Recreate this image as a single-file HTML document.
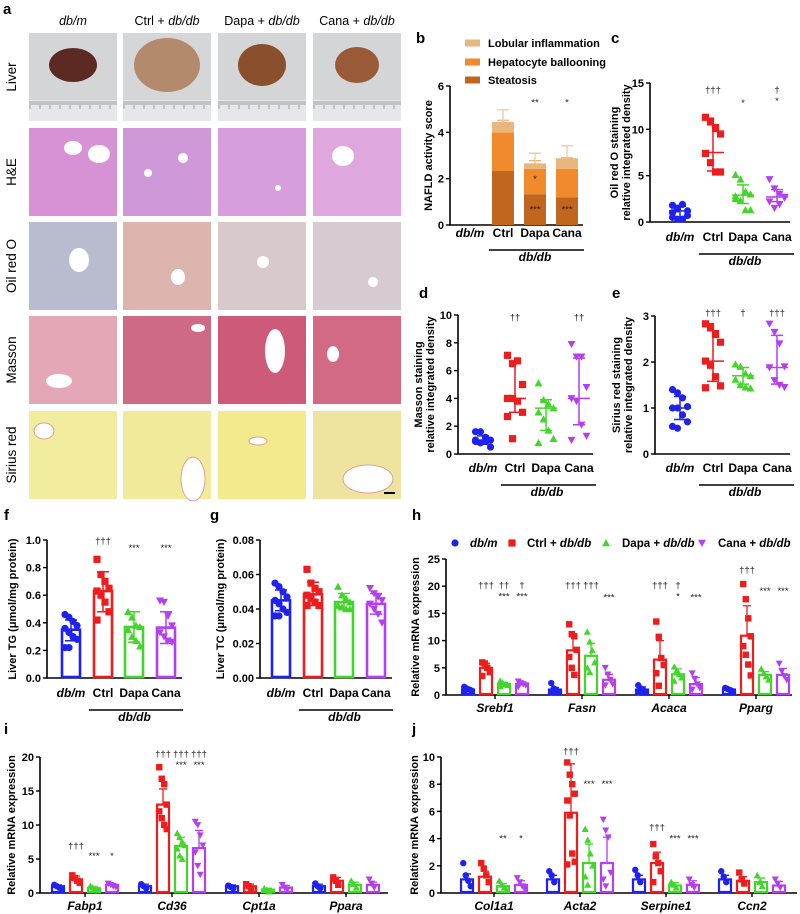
<!DOCTYPE html>
<html><head><meta charset="utf-8"><title>Liver figure</title>
<style>
html,body{margin:0;padding:0;background:#fff;}
svg{display:block;font-family:"Liberation Sans",Arial,sans-serif;}
</style></head>
<body>
<svg id="fig" width="800" height="914" viewBox="0 0 800 914" xmlns="http://www.w3.org/2000/svg"></svg>
<script>
// ---------- DATA ----------
const groupNames = ["db/m","Ctrl","Dapa","Cana"];
const colors = ["#1f22ee","#ee1c1c","#43d62a","#b43ef0"];
const shapes = ["circle","square","tri","tridown"];

// b
const nasTicks = [0,2,4,6];
const steatosis = [0,2.33,1.33,1.2];
const ballooning = [0,1.67,1.1,1.23];
const lobular = [0,0.45,0.23,0.45];
const steatosisErr = [0,2.82,1.83,1.65];
const balloonErr = [0,4.52,2.78,2.9];
const lobularErr = [0,4.97,3.1,3.42];

// c
const orTicks = [0,5,10,15];
const orPts = [[1.8,1.5,1.9,1.2,0.5,0.3,0.3,0.7,1.0,1.4],[11.3,10.9,10.1,9.5,7.4,6.4,5.4,5.4],[5.1,4.6,3.3,3.0,2.8,2.3,1.3,1.3,2.5],[4.6,3.6,3.0,2.6,2.2,1.5,1.9,2.7]];
const orMid = [1.2,7.5,2.9,2.7];
const orLo = [0.4,5.5,2.0,2.2];
const orHi = [1.7,10.5,4.0,3.5];

// d
const msTicks = [0,2,4,6,8,10];
const msPts = [[1.6,1.6,1.2,1.0,0.9,0.8,0.9,0.5,1.0],[7.1,6.5,6.7,5.0,4.0,4.0,3.8,3.0,2.7,1.1],[5.1,3.9,3.6,3.3,3.0,2.5,1.7,1.1,0.8],[7.9,7.0,7.0,4.8,4.0,3.8,2.1,1.3,1.0]];
const msMid = [1.0,4.0,3.3,4.0];
const msLo = [0.7,3.0,1.7,2.1];
const msHi = [1.3,6.6,3.9,6.9];

// e
const srTicks = [0,1,2,3];
const srPts = [[1.4,1.33,1.22,1.03,1.0,1.0,0.85,0.7,0.6,0.56],[2.83,2.77,2.6,2.43,2.02,1.93,1.68,1.48,1.44],[1.95,1.9,1.75,1.7,1.62,1.5,1.45,1.43],[2.83,2.65,2.4,1.9,1.88,1.6,1.5,1.45]];
const srMid = [1.0,2.02,1.7,1.88];
const srLo = [0.75,1.58,1.52,1.52];
const srHi = [1.25,2.68,1.88,2.58];

// f
const tgTicks = [0,0.2,0.4,0.6,0.8,1.0];
const tgMean = [0.35,0.63,0.37,0.365];
const tgLo = [0.27,0.48,0.26,0.25];
const tgHi = [0.42,0.77,0.48,0.48];
const tgPts = [[0.46,0.44,0.41,0.38,0.36,0.33,0.3,0.28,0.22,0.22],[0.86,0.75,0.7,0.65,0.63,0.6,0.55,0.48,0.42],[0.48,0.44,0.38,0.37,0.35,0.3,0.27,0.23],[0.56,0.55,0.45,0.38,0.33,0.3,0.27,0.26]];

// g
const tcTicks = [0,0.02,0.04,0.06,0.08];
const tcMean = [0.045,0.0485,0.044,0.043];
const tcLo = [0.039,0.042,0.04,0.037];
const tcHi = [0.051,0.0555,0.049,0.049];
const tcPts = [[0.055,0.053,0.05,0.047,0.045,0.043,0.04,0.038,0.036,0.036],[0.063,0.055,0.052,0.05,0.048,0.046,0.044,0.042,0.042],[0.053,0.048,0.046,0.044,0.042,0.041,0.04,0.04],[0.052,0.049,0.047,0.045,0.043,0.04,0.037,0.032]];

// h  (all [group][gene])
const hGenes = ["Srebf1","Fasn","Acaca","Pparg"];
const hTicks = [0,5,10,15,20,25];
const hMean = [[1,1,1,1],[5,8.2,6.5,10.9],[2,7.2,3.8,3.7],[2,2.8,2.0,3.7]];
const hSd = [[0.3,0.4,0.5,0.2],[0.8,2.5,3.5,5.5],[0.3,2.3,1.0,0.6],[0.3,1.0,1.2,1.2]];
const hPts = [[[1.5,1.2,1,0.8,0.6],[2.2,1.2,0.9,0.6,0.5],[1.8,1.2,0.9,0.6,0.5],[1.3,1.1,0.9,0.7]],
              [[6,5.8,5,4.2,3.5],[13,11.2,10.8,8.3,7,5,3.7],[13.5,10.7,6.8,5.5,4,1.7],[20.4,17.6,14.1,10.8,9,7.4,5.6,3.6]],
              [[2.6,2.2,2,1.8,1.6],[11.6,9.8,8.2,6,5,4.2],[5.2,4.5,3.8,3.2,2.6],[4.8,4,3.4,2.8]],
              [[2.5,2.2,2,1.8,1.5],[5,3.8,2.8,2,1.8],[4,3,2,1.3,1],[5.8,4.4,3.5,2.8]]];
const hSig = [["","","",""],["†††","†††","†††","†††"],["††\n***","†††","†\n*","***"],["†\n***","***","***","***"]];
const hSigY = [[0,0,0,0],[19.6,19.6,19.6,22.4],[19.6,19.6,19.6,18.6],[19.6,17.4,17.4,18.6]];

// i
const iGenes = ["Fabp1","Cd36","Cpt1a","Ppara"];
const iTicks = [0,5,10,15,20];
const iMean = [[1,1,1,1],[2,13,1,1.8],[0.7,6.9,0.5,1.2],[1.2,6.6,0.8,1.2]];
const iSd = [[0.2,0.3,0.2,0.3],[0.5,2.3,0.3,0.5],[0.2,1.3,0.2,0.4],[0.2,2.6,0.3,0.4]];
const iPts = [[[1.2,1,0.8,0.6],[1.3,1,0.7],[1.1,0.9,0.7],[1.4,1,0.7]],
              [[2.6,2.2,1.8,1.5],[18.5,16.8,16,13,12,11,10,9.4],[1.3,1,0.6],[2.3,1.8,1.2]],
              [[1,0.8,0.6,0.4],[8.8,8.2,7.5,7,6.5,5.5,5],[0.7,0.4,0.2],[1.8,1.3,0.8]],
              [[1.4,1.2,1,0.9],[10.5,10,8.5,7,6,4,2.7],[1.2,0.8,0.5],[2,1.4,0.8]]];
const iSig = [["","","",""],["†††","†††","",""],["***","†††\n***","",""],["*","†††\n***","",""]];
const iSigY = [[0,0,0,0],[6.5,20,0,0],[5,20,0,0],[5,20,0,0]];

// j
const jGenes = ["Col1a1","Acta2","Serpine1","Ccn2"];
const jTicks = [0,2,4,6,8,10];
const jMean = [[1,1,1,1],[1.2,5.9,2.2,0.9],[0.5,2.2,0.55,0.8],[0.6,2.2,0.6,0.55]];
const jSd = [[0.4,0.3,0.3,0.3],[0.4,3.6,0.8,0.3],[0.2,1.4,0.2,0.3],[0.3,1.9,0.3,0.3]];
const jPts = [[[2.2,1.3,0.9,0.5],[1.6,1.3,0.8],[1.7,1.3,0.8],[1.6,1.2,0.8]],
              [[2.2,1.8,1.3,0.8],[9.6,8.7,8,7.3,6.8,5.7,2.9,2.3,2.1],[3.6,2.7,2.2,1.6,0.8],[1.5,1,0.7]],
              [[0.9,0.6,0.4,0.2],[4.7,3.9,2.9,2,1.2,0.6],[0.8,0.6,0.4],[1.3,0.8,0.5]],
              [[1.1,0.8,0.5,0.3],[5.4,4.6,4.1,1.5,1,0.5],[1,0.6,0.4],[1,0.7,0.4]]];
const jSig = [["","","",""],["","†††","†††",""],["**","***","***",""],["*","***","***",""]];
const jSigY = [[0,0,0,0],[0,10.2,4.6,0],[3.8,7.8,3.8,0],[3.8,7.8,3.8,0]];

// ---------- HELPERS ----------
const NS = "http://www.w3.org/2000/svg";
const svg = document.getElementById("fig");
function el(tag, a, p) {
  const e = document.createElementNS(NS, tag);
  for (const k in a) e.setAttribute(k, a[k]);
  (p || svg).appendChild(e);
  return e;
}
function tx(x, y, s, size, anchor, extra, p) {
  const e = el("text", Object.assign({x: x, y: y, "font-size": size, "text-anchor": anchor || "middle"}, extra || {}), p);
  e.textContent = s;
  return e;
}
function grp(name) {
  const g = el("g", {});
  
  
  return g;
}
function marker(shape, cx, cy, r, color, p) {
  let m;
  if (shape === "circle") m = el("circle", {cx: cx, cy: cy, r: r, fill: color}, p);
  else if (shape === "square") m = el("rect", {x: cx - r, y: cy - r, width: 2 * r, height: 2 * r, fill: color}, p);
  else if (shape === "tri") m = el("polygon", {points: `${cx},${cy - r * 1.1} ${cx - r * 1.1},${cy + r * 0.9} ${cx + r * 1.1},${cy + r * 0.9}`, fill: color}, p);
  else m = el("polygon", {points: `${cx},${cy + r * 1.1} ${cx - r * 1.1},${cy - r * 0.9} ${cx + r * 1.1},${cy - r * 0.9}`, fill: color}, p);
  
  
  return m;
}
function fmtNum(t, dec) { return t.toFixed(dec); }
function axes(o) {
  const g = grp(o.name + "-axes");
  const sy = v => o.y0 - (v - o.ticks[0]) / (o.ticks[o.ticks.length - 1] - o.ticks[0]) * (o.y0 - o.y1);
  const yl = el("line", {x1: o.x, y1: o.y0, x2: o.x, y2: o.y1, stroke: "#000", "stroke-width": 1.6}, g);
  
  
  const xl = el("line", {x1: o.x - 0.8, y1: o.y0, x2: o.xEnd, y2: o.y0, stroke: "#000", "stroke-width": 1.6}, g);
  
  
  o.ticks.forEach(t => {
    const tk = el("line", {x1: o.x - 4, y1: sy(t), x2: o.x, y2: sy(t), stroke: "#000", "stroke-width": 1.4}, g);
    
    
    const tl = tx(o.x - 6, sy(t) + 4, fmtNum(t, o.dec || 0), 11, "end", {"font-weight": "bold"}, g);
    
    
  });
  const cx = o.titleX, cy = (o.y0 + o.y1) / 2;
  o.title.forEach((line, i) => {
    const t = tx(cx + i * 12, cy, line, 11, "middle", {"font-weight": "bold", transform: `rotate(-90 ${cx + i * 12} ${cy})`}, g);
    
    
  });
  return sy;
}
function catLabels(xs, y, name) {
  const g = grp(name + "-x-labels");
  xs.forEach((x, i) => {
    const t = tx(x, y, groupNames[i], 12, "middle", i === 0 ? {"font-weight": "bold", "font-style": "italic"} : {"font-weight": "bold"}, g);
    
    
  });
  const ul = el("line", {x1: xs[1] - 14, y1: y + 13, x2: xs[3] + 17, y2: y + 13, stroke: "#000", "stroke-width": 1.6}, g);
  
  
  const dd = tx((xs[1] + xs[3]) / 2, y + 24, "db/db", 12, "middle", {"font-weight": "bold", "font-style": "italic"}, g);
  
  
}
function sig(x, y, s, p) {
  s.split("\n").forEach((line, k) => {
    const t = tx(x, y + k * 11, line, 9.5, "middle", {fill: "#222"}, p);
    
    
  });
}
function jit(i, w) { return ((i % 4) - 1.5) * w; }
function panelLetter(x, y, s) {
  const t = tx(x, y, s, 15, "start", {"font-weight": "bold"});
  
  
}

// ---------- PANEL A (photos) ----------
panelLetter(3, 14, "a");
const colX = [29, 123, 218, 313];
const rowY = [33, 128, 222, 316, 411];
const heads = [["", "db/m"], ["Ctrl + ", "db/db"], ["Dapa + ", "db/db"], ["Cana + ", "db/db"]];
heads.forEach((h, i) => {
  const t = el("text", {x: colX[i] + 44, y: 25, "font-size": 12.5, "text-anchor": "middle"});
  
  
  if (h[0]) { const s1 = el("tspan", {}, t); s1.textContent = h[0]; }
  const s2 = el("tspan", {"font-style": "italic"}, t); s2.textContent = h[1];
});
const rowNames = ["Liver", "H&E", "Oil red O", "Masson", "Sirius red"];
rowNames.forEach((r, j) => {
  const cy = rowY[j] + 44;
  const t = tx(16, cy, r, 13.5, "middle", {transform: `rotate(-90 16 ${cy})`});
  
  
});
const tissue = [
  ["#d3d5d7", "#d4d6d8", "#d3d5d7", "#d3d5d7"],
  ["#d792d6", "#cf98d8", "#d79ddc", "#e0a6de"],
  ["#b9bccf", "#dcb5ae", "#d8c9cc", "#d6cbd0"],
  ["#e3a7b6", "#cf6a86", "#cd5a78", "#d26a86"],
  ["#f1ec9e", "#f1ea9a", "#f2ea8c", "#efe3a0"]];
const liverCol = ["#5c2a22", "#b48a6c", "#8a4f2c", "#9a5a38"];
const liverSize = [[24, 17], [33, 27], [24, 21], [22, 18]];
const vessels = [
  [[0,0,0,0]],
  [[44,20,9,7],[70,26,11,9]],[[60,30,5,5],[25,45,4,4]],[[60,60,3,3]],[[30,28,11,10]],
  [[50,38,10,12]],[[55,55,7,8]],[[45,40,6,6]],[[60,60,5,5]],
  [[30,65,13,7]],[[75,12,7,4]],[[57,35,10,22]],[[20,38,6,8]],
  [[15,20,10,8]],[[70,68,12,22]],[[40,30,9,4]],[[55,68,25,14]]];
for (let j = 0; j < 5; j++) {
  for (let i = 0; i < 4; i++) {
    const g = grp("micrograph-" + rowNames[j].toLowerCase().replace(/[^a-z]+/g, "-") + "-" + i);
    const x = colX[i], y = rowY[j];
    const r = el("rect", {x: x, y: y, width: 88, height: 88, fill: tissue[j][i]}, g);
    
    
    if (j === 0) {
      const ru = el("rect", {x: x, y: y + 67, width: 88, height: 21, fill: "#e6e7e8"}, g);
      
      
      for (let k = 0; k < 44; k++) {
        const tk = el("line", {x1: x + 1 + k * 2, y1: y + 68, x2: x + 1 + k * 2, y2: y + (k % 5 === 0 ? 76 : 72), stroke: "#555", "stroke-width": 0.5}, g);
        
        
      }
      const lv = el("ellipse", {cx: x + 44, cy: y + 32, rx: liverSize[i][0], ry: liverSize[i][1], fill: liverCol[i]}, g);
      
      
    } else {
      const vs = vessels[(j - 1) * 4 + i + 1] || [];
      vs.forEach(v => {
        const e = el("ellipse", {cx: x + v[0], cy: y + v[1], rx: v[2], ry: v[3], fill: "#fff", stroke: j === 4 ? "#e0a090" : "none", "stroke-width": 1}, g);
        
        
      });
    }
  }
}
const sb = el("line", {x1: 384, y1: 493, x2: 395, y2: 493, stroke: "#000", "stroke-width": 2});



// ---------- PANEL B ----------
panelLetter(416, 43, "b");
{
  const xs = [470, 503, 535, 567];
  const sy = axes({name: "nas", x: 450, y0: 225, y1: 86, xEnd: 583, ticks: nasTicks, title: ["NAFLD activity score"], titleX: 432});
  const g = grp("nas-stacked-bars");
  const segs = [[steatosis, "#c0661f", steatosisErr, "#e2995c"], [ballooning, "#f08a2c", balloonErr, "#f7b06c"], [lobular, "#e8b67e", lobularErr, "#f0c898"]];
  xs.forEach((x, i) => {
    if (i === 0) return;
    let base = 0;
    segs.forEach(s => {
      const v = s[0][i];
      const r = el("rect", {x: x - 11, y: sy(base + v), width: 22, height: sy(base) - sy(base + v), fill: s[1]}, g);
      
      
      const e = el("path", {d: `M${x} ${sy(base + v)} V${sy(s[2][i])} M${x - 6} ${sy(s[2][i])} H${x + 6}`, stroke: s[3], "stroke-width": 1.3, fill: "none"}, g);
      
      
      base += v;
    });
  });
  sig(535, sy(5.15), "**", g); sig(567, sy(5.15), "*", g);
  sig(535, sy(1.85), "*", g); sig(535, sy(0.55), "***", g); sig(567, sy(0.55), "***", g);
  catLabels(xs, 237, "nas");
  const lg = grp("nas-legend");
  [["Lobular inflammation", "#e8b67e", 43], ["Hepatocyte ballooning", "#f08a2c", 62], ["Steatosis", "#c0661f", 80]].forEach(l => {
    const s = el("rect", {x: 465, y: l[2] - 3.5, width: 15, height: 7, fill: l[1]}, lg);
    
    
    const t = tx(488, l[2] + 4, l[0], 11, "start", {"font-weight": "bold"}, lg);
    
    
  });
}

// ---------- SCATTER PANELS c,d,e ----------
function scatterPanel(o) {
  const sy = axes(o);
  const g = grp(o.name + "-points");
  o.xs.forEach((x, i) => {
    o.pts[i].forEach((v, k) => marker(shapes[i], x + jit(k, 5), sy(v), 3.6, colors[i], g));
    const e = el("path", {d: `M${x - 11} ${sy(o.mid[i])} H${x + 11} M${x} ${sy(o.lo[i])} V${sy(o.hi[i])} M${x - 6} ${sy(o.lo[i])} H${x + 6} M${x - 6} ${sy(o.hi[i])} H${x + 6}`, stroke: colors[i], "stroke-width": 1.5, fill: "none"}, g);
    
    
  });
  o.sigs.forEach(s => sig(o.xs[s[0]], sy(s[1]), s[2], g));
  catLabels(o.xs, o.labY, o.name);
}
panelLetter(611, 43, "c");
scatterPanel({name: "oil-red-o", x: 650, y0: 222, y1: 83, xEnd: 790, ticks: orTicks, title: ["Oil red O staining", "relative integrated density"], titleX: 618,
  xs: [680, 713, 743, 777], pts: orPts, mid: orMid, lo: orLo, hi: orHi, labY: 241,
  sigs: [[1, 13.9, "†††"], [2, 12.5, "*"], [3, 13.9, "†\n*"]]});
panelLetter(419, 298, "d");
scatterPanel({name: "masson", x: 458, y0: 454, y1: 315, xEnd: 593, ticks: msTicks, title: ["Masson staining", "relative integrated density"], titleX: 422,
  xs: [483, 515, 546, 579], pts: msPts, mid: msMid, lo: msLo, hi: msHi, labY: 472,
  sigs: [[1, 9.6, "††"], [3, 9.6, "††"]]});
panelLetter(612, 298, "e");
scatterPanel({name: "sirius-red", x: 655, y0: 454, y1: 316, xEnd: 790, ticks: srTicks, title: ["Sirius red staining", "relative integrated density"], titleX: 620,
  xs: [680, 713, 743, 777], pts: srPts, mid: srMid, lo: srLo, hi: srHi, labY: 472,
  sigs: [[1, 3.0, "†††"], [2, 3.0, "†"], [3, 3.0, "†††"]]});

// ---------- BAR PANELS f,g ----------
function barPanel(o) {
  const sy = axes(o);
  const g = grp(o.name + "-bars");
  o.xs.forEach((x, i) => {
    const b = el("rect", {x: x - 9, y: sy(o.mean[i]), width: 18, height: sy(0) - sy(o.mean[i]) - 1, fill: "#fff", stroke: colors[i], "stroke-width": 2.6}, g);
    
    
    o.pts[i].forEach((v, k) => marker(shapes[i], x + jit(k, 4), sy(v), 3.6, colors[i], g));
    const e = el("path", {d: `M${x} ${sy(o.lo[i])} V${sy(o.hi[i])} M${x - 6} ${sy(o.lo[i])} H${x + 6} M${x - 6} ${sy(o.hi[i])} H${x + 6}`, stroke: colors[i], "stroke-width": 1.5, fill: "none"}, g);
    
    
  });
  o.sigs.forEach(s => sig(o.xs[s[0]], sy(s[1]), s[2], g));
  catLabels(o.xs, o.labY, o.name);
}
panelLetter(4, 520, "f");
barPanel({name: "liver-tg", x: 47, y0: 678, y1: 540, xEnd: 182, ticks: tgTicks, dec: 1, title: ["Liver TG (μmol/mg protein)"], titleX: 16,
  xs: [71, 103, 134, 166], mean: tgMean, lo: tgLo, hi: tgHi, pts: tgPts, labY: 697,
  sigs: [[1, 0.97, "†††"], [2, 0.92, "***"], [3, 0.92, "***"]]});
panelLetter(210, 520, "g");
barPanel({name: "liver-tc", x: 260, y0: 678, y1: 540, xEnd: 392, ticks: tcTicks, dec: 2, title: ["Liver TC (μmol/mg protein)"], titleX: 224,
  xs: [281, 313, 344, 376], mean: tcMean, lo: tcLo, hi: tcHi, pts: tcPts, labY: 697, sigs: []});

// ---------- GENE PANELS h,i,j ----------
function genePanel(o) {
  const sy = axes(o);
  const g = grp(o.name + "-bars");
  const offs = [-27, -9, 9, 27];
  o.genes.forEach((gn, j) => {
    const c = o.centers[j];
    for (let i = 0; i < 4; i++) {
      const x = c + offs[i];
      const m = o.mean[i][j], sd = o.sd[i][j];
      const b = el("rect", {x: x - 6, y: sy(m), width: 12, height: Math.max(0, sy(0) - sy(m) - 1), fill: "#fff", stroke: colors[i], "stroke-width": 2.2}, g);
      
      
      o.pts[i][j].forEach((v, k) => marker(shapes[i], x + jit(k, 2.5), sy(v), 3.2, colors[i], g));
      const e = el("path", {d: `M${x} ${sy(m)} V${sy(m + sd)} M${x - 4} ${sy(m + sd)} H${x + 4}`, stroke: colors[i], "stroke-width": 1.3, fill: "none"}, g);
      
      
      if (o.sig[i][j]) sig(x, sy(o.sigY[i][j]), o.sig[i][j], g);
    }
    const tk = el("line", {x1: c, y1: o.y0, x2: c, y2: o.y0 + 4, stroke: "#000", "stroke-width": 1.4}, g);
    
    
    const t = tx(c, o.y0 + 17, gn, 12, "middle", {"font-weight": "bold", "font-style": "italic"}, g);
    
    
  });
}
panelLetter(412, 520, "h");
genePanel({name: "lipogenesis-mrna", x: 446, y0: 695, y1: 559, xEnd: 792, ticks: hTicks, title: ["Relative mRNA expression"], titleX: 419,
  genes: hGenes, centers: [495, 582, 669, 756], mean: hMean, sd: hSd, pts: hPts, sig: hSig, sigY: hSigY});
{
  const lg = grp("mrna-legend");
  const items = [[455, 470, ["", "db/m"]], [512, 527, ["Ctrl + ", "db/db"]], [606, 622, ["Dapa + ", "db/db"]], [702, 718, ["Cana + ", "db/db"]]];
  items.forEach((it, i) => {
    marker(shapes[i], it[0], 543, 3.6, colors[i], lg);
    const t = el("text", {x: it[1], y: 547, "font-size": 11.5, "font-weight": "bold"}, lg);
    
    
    if (it[2][0]) { const s1 = el("tspan", {}, t); s1.textContent = it[2][0]; }
    const s2 = el("tspan", {"font-style": "italic"}, t); s2.textContent = it[2][1];
  });
}
panelLetter(4, 734, "i");
genePanel({name: "lipid-uptake-mrna", x: 40, y0: 893, y1: 757, xEnd: 388, ticks: iTicks, title: ["Relative mRNA expression"], titleX: 15,
  genes: iGenes, centers: [85, 172, 259, 346], mean: iMean, sd: iSd, pts: iPts, sig: iSig, sigY: iSigY});
panelLetter(412, 734, "j");
genePanel({name: "fibrosis-mrna", x: 441, y0: 893, y1: 757, xEnd: 797, ticks: jTicks, title: ["Relative mRNA expression"], titleX: 418,
  genes: jGenes, centers: [494, 580, 666, 752], mean: jMean, sd: jSd, pts: jPts, sig: jSig, sigY: jSigY});
</script>
</body></html>
